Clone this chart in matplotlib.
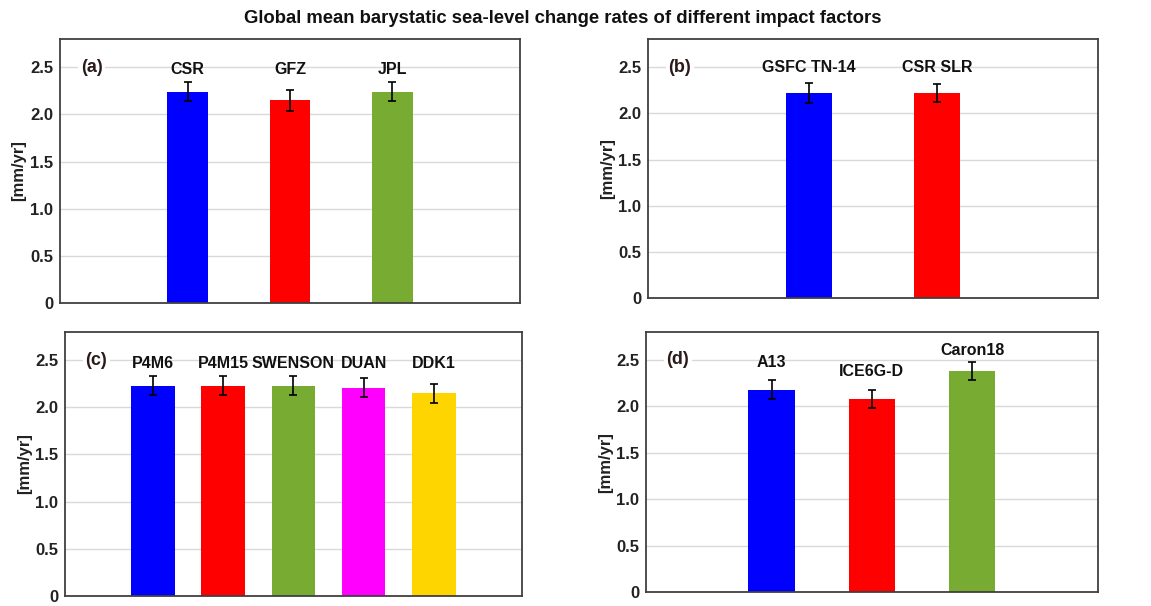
import matplotlib
matplotlib.use("Agg")
import matplotlib.pyplot as plt

plt.rcParams['font.family'] = ['Liberation Sans', 'DejaVu Sans']

title = "Global mean barystatic sea-level change rates of different impact factors"

# (a) GRACE solutions
cats_a = ["CSR", "GFZ", "JPL"]
vals_a = [2.24, 2.15, 2.24]
errs_a = [0.10, 0.11, 0.10]

# (b) C20 replacement
cats_b = ["GSFC TN-14", "CSR SLR"]
vals_b = [2.22, 2.22]
errs_b = [0.11, 0.10]

# (c) destriping filters
cats_c = ["P4M6", "P4M15", "SWENSON", "DUAN", "DDK1"]
vals_c = [2.23, 2.23, 2.23, 2.21, 2.15]
errs_c = [0.10, 0.10, 0.10, 0.10, 0.10]

# (d) GIA models
cats_d = ["A13", "ICE6G-D", "Caron18"]
vals_d = [2.18, 2.08, 2.38]
errs_d = [0.10, 0.10, 0.10]

panel_tags = ["(a)", "(b)", "(c)", "(d)"]
yticks = [0, 0.5, 1.0, 1.5, 2.0, 2.5]
ytick_labels = ["0", "0.5", "1.0", "1.5", "2.0", "2.5"]

BLUE, RED, GREEN, MAGENTA, GOLD = "#0000FF", "#FF0000", "#77AB31", "#FF00FF", "#FFD500"

panels = [
    dict(cats=cats_a, vals=vals_a, errs=errs_a, colors=[BLUE, RED, GREEN],
         rect=[0.0521, 0.500, 0.3997, 0.4356], width=0.40, label_y=2.48),
    dict(cats=cats_b, vals=vals_b, errs=errs_b, colors=[BLUE, RED],
         rect=[0.5633, 0.5078, 0.3904, 0.4274], width=0.36, label_y=2.49),
    dict(cats=cats_c, vals=vals_c, errs=errs_c, colors=[BLUE, RED, GREEN, MAGENTA, GOLD],
         rect=[0.0565, 0.0170, 0.3968, 0.4351], width=0.62, label_y=2.47),
    dict(cats=cats_d, vals=vals_d, errs=errs_d, colors=[BLUE, RED, GREEN],
         rect=[0.5613, 0.0226, 0.3924, 0.4295], width=0.46, label_y=None),
]

fig = plt.figure(figsize=(11.51, 6.06), dpi=100)
fig.text(0.489, 0.9616, title, ha="center", va="baseline", fontsize=13.3, fontweight="bold",
         color="#111111")

for tag, p in zip(panel_tags, panels):
    ax = fig.add_axes(p["rect"])
    n = len(p["cats"])
    x = list(range(n))
    ax.bar(x, p["vals"], width=p["width"], color=p["colors"], zorder=2)
    ax.errorbar(x, p["vals"], yerr=p["errs"], fmt="none", ecolor="black",
                elinewidth=1.2, capsize=3, capthick=1.2, zorder=3)
    for xi, v, e, c in zip(x, p["vals"], p["errs"], p["cats"]):
        if p["label_y"] is None:
            ly = min(v + e + 0.19, 2.60)
        else:
            ly = p["label_y"]
        ax.text(xi, ly, c, ha="center", va="center", fontsize=11.5,
                fontweight="bold", color="#111111", zorder=4)
    ax.text(0.045, 2.5, tag, transform=ax.get_yaxis_transform(), ha="left", va="center",
            fontsize=13, fontweight="bold", color="#2a1a1a", zorder=4,
            bbox=dict(facecolor="white", edgecolor="none", pad=2))
    ax.set_xlim(-1.25, n - 1 + 1.25)
    ax.set_ylim(0, 2.8)
    ax.set_xticks([])
    ax.set_yticks(yticks)
    ax.set_yticklabels(ytick_labels, fontsize=12, fontweight="bold", color="#222222")
    ax.tick_params(axis="y", length=0, pad=5)
    ax.grid(axis="y", color="#d9d9d9", linewidth=1.0, zorder=0)
    ax.set_axisbelow(True)
    for s in ax.spines.values():
        s.set_color("#404040")
        s.set_linewidth(1.3)
    ax.set_ylabel("[mm/yr]", fontsize=12, fontweight="bold", color="#222222")
    ax.yaxis.set_label_coords(-0.073, 0.5)

fig.savefig("out.png", dpi=100)
